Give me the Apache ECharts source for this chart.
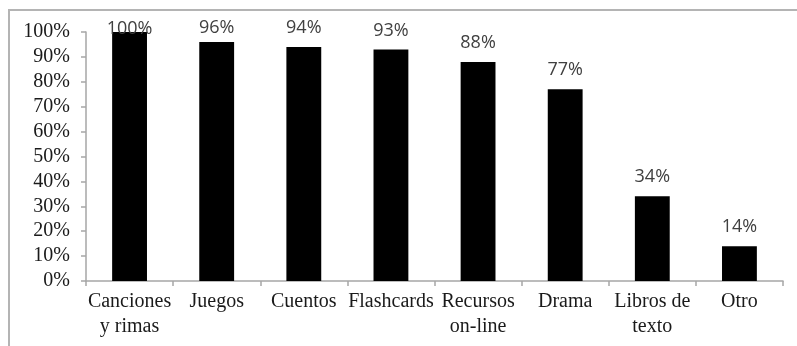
<!DOCTYPE html>
<html>
<head>
<meta charset="utf-8">
<script src="https://cdn.jsdelivr.net/npm/echarts@6/dist/echarts.min.js"></script>
<style>
  html, body { margin: 0; padding: 0; background: #fff; }
  #chart { width: 797px; height: 346px; }
</style>
</head>
<body>
<div id="chart"></div>
<script>
// Recursos utilizados (porcentaje)
const categories = ['Canciones\ny rimas', 'Juegos', 'Cuentos', 'Flashcards', 'Recursos\non-line', 'Drama', 'Libros de\ntexto', 'Otro'];
const values = [100, 96, 94, 93, 88, 77, 34, 14];
const yTicks = { min: 0, max: 100, interval: 10 };

// Label offsets above the bars (the first two sit closer to the top)
const labelDistance = { 0: -6, 1: 5 };

const chart = echarts.init(document.getElementById('chart'), null, { renderer: 'canvas' });

const axisGray = '#a6a6a6';

chart.setOption({
  animation: false,
  backgroundColor: '#ffffff',
  graphic: [{
    type: 'rect',
    shape: { x: 9, y: 10, width: 900, height: 500 },
    style: { fill: 'none', stroke: '#b4b4b4', lineWidth: 2 },
    silent: true,
    z: -1
  }],
  grid: { left: 86, right: 14, top: 32, bottom: 65, containLabel: false },
  xAxis: {
    type: 'category',
    data: categories,
    axisLine: { show: true, lineStyle: { color: axisGray, width: 1.5 } },
    axisTick: { show: true, length: 5, alignWithLabel: false, lineStyle: { color: axisGray, width: 1.5 } },
    axisLabel: {
      interval: 0,
      margin: 8,
      color: '#1a1a1a',
      fontFamily: 'Liberation Serif',
      fontSize: 20,
      lineHeight: 25
    },
    splitLine: { show: false }
  },
  yAxis: {
    type: 'value',
    min: yTicks.min,
    max: yTicks.max,
    interval: yTicks.interval,
    axisLine: { show: true, lineStyle: { color: axisGray, width: 1.5 } },
    axisTick: { show: true, length: 5, lineStyle: { color: axisGray, width: 1.5 } },
    axisLabel: {
      margin: 16,
      color: '#1a1a1a',
      fontFamily: 'Liberation Serif',
      fontSize: 20,
      formatter: '{value}%'
    },
    splitLine: { show: false }
  },
  series: [{
    type: 'bar',
    barWidth: '40%',
    itemStyle: { color: '#000000' },
    label: {
      show: true,
      position: 'top',
      distance: 10,
      color: '#404040',
      fontFamily: 'Open Sans',
      fontSize: 18,
      formatter: '{c}%'
    },
    data: values.map((v, i) => (
      i in labelDistance ? { value: v, label: { distance: labelDistance[i] } } : v
    ))
  }]
});
</script>
</body>
</html>
